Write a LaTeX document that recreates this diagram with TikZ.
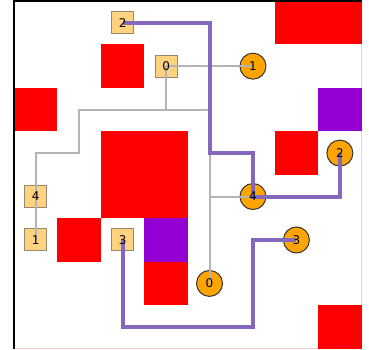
\documentclass[tikz,border=0pt]{standalone}
\usepackage{fontspec}
\setmainfont{DejaVu Sans}
\definecolor{blockred}{RGB}{255,0,0}
\definecolor{blockviolet}{RGB}{148,0,211}
\definecolor{routeviolet}{RGB}{132,104,189}
\definecolor{treegrey}{RGB}{180,180,180}
\definecolor{srcfill}{RGB}{255,210,128}
\definecolor{srcedge}{RGB}{150,135,110}
\definecolor{sinkfill}{RGB}{255,165,0}
\definecolor{sinkedge}{RGB}{50,50,50}
\definecolor{paleframe}{RGB}{255,205,205}
\tikzset{
  redcell/.style={fill=blockred},
  violetcell/.style={fill=blockviolet},
  srcbox/.style={rectangle, draw=srcedge, fill=srcfill, line width=1pt,
    minimum size=22pt, inner sep=0pt},
  sinkdot/.style={circle, draw=sinkedge, fill=sinkfill, line width=1pt,
    minimum size=26pt, inner sep=0pt},
  pinlabel/.style={inner sep=0pt, font=\fontsize{12}{13}\selectfont, text=black},
  route/.style={draw=routeviolet, line width=4pt, line join=miter},
  tree/.style={draw=treegrey, line width=2pt, line join=miter},
}
\begin{document}
\begin{tikzpicture}[x=1pt, y=-1pt]
\useasboundingbox (0,0) rectangle (369,349);
\fill[white] (0,0) rectangle (369,349);
\begin{scope}[shift={(14,1)}, x=43.45pt, y=-43.45pt]
  % pale right and bottom frame
  \draw[paleframe, line width=1pt] (8,0) -- (8,8) -- (0,8);
  % blocked cells
  \fill[redcell] (6,0) rectangle (8,1);
  \fill[redcell] (2,1) rectangle (3,2);
  \fill[redcell] (0,2) rectangle (1,3);
  \fill[violetcell] (7,2) rectangle (8,3);
  \fill[redcell] (2,3) rectangle (4,5);
  \fill[redcell] (6,3) rectangle (7,4);
  \fill[redcell] (1,5) rectangle (2,6);
  \fill[violetcell] (3,5) rectangle (4,6);
  \fill[redcell] (3,6) rectangle (4,7);
  \fill[redcell] (7,7) rectangle (8,8);
  % dark left and top frame
  \draw[black, line width=1.1pt] (0,8) -- (0,0) -- (8,0);

  % pins
  \node[srcbox] (s2) at (2.5,0.5) {};
  \node[srcbox] (s0) at (3.5,1.5) {};
  \node[srcbox] (s4) at (0.5,4.5) {};
  \node[srcbox] (s1) at (0.5,5.5) {};
  \node[srcbox] (s3) at (2.5,5.5) {};
  \node[sinkdot] (t1) at (5.5,1.5) {};
  \node[sinkdot] (t2) at (7.5,3.5) {};
  \node[sinkdot] (t4) at (5.5,4.5) {};
  \node[sinkdot] (t3) at (6.5,5.5) {};
  \node[sinkdot] (t0) at (4.5,6.5) {};

  % bends of the grey tree
  \coordinate (g1) at (3.5,2.5);
  \coordinate (g2) at (4.5,2.5);
  \coordinate (g3) at (4.5,4.5);
  \coordinate (g4) at (1.5,2.5);
  \coordinate (g5) at (1.5,3.5);
  \coordinate (g6) at (0.5,3.5);
  % bends of the violet routes
  \coordinate (r1) at (4.5,0.5);
  \coordinate (r2) at (4.5,3.5);
  \coordinate (r3) at (5.5,3.5);
  \coordinate (r4) at (7.5,4.5);
  \coordinate (r5) at (2.5,7.5);
  \coordinate (r6) at (5.5,7.5);
  \coordinate (r7) at (5.5,5.5);

  % grey tree
  \draw[tree] (s0.center) -- (t1.center);
  \draw[tree] (s0.center) -- (g1) -- (g2) -- (t0.center);
  \draw[tree] (g3) -- (t4.center);
  \draw[tree] (g1) -- (g4) -- (g5) -- (g6) -- (s4.center) -- (s1.center);

  % violet routes
  \draw[route] (s2.center) -- (r1) -- (r2) -- (r3) -- (t4.center) -- (r4) -- (t2.center);
  \draw[route] (s3.center) -- (r5) -- (r6) -- (r7) -- (t3.center);

  % pin labels
  \foreach \p/\t in {s2/2, s0/0, s4/4, s1/1, s3/3, t1/1, t2/2, t4/4, t3/3, t0/0}
    \node[pinlabel] at (\p) {\t};
\end{scope}
\end{tikzpicture}
\end{document}
